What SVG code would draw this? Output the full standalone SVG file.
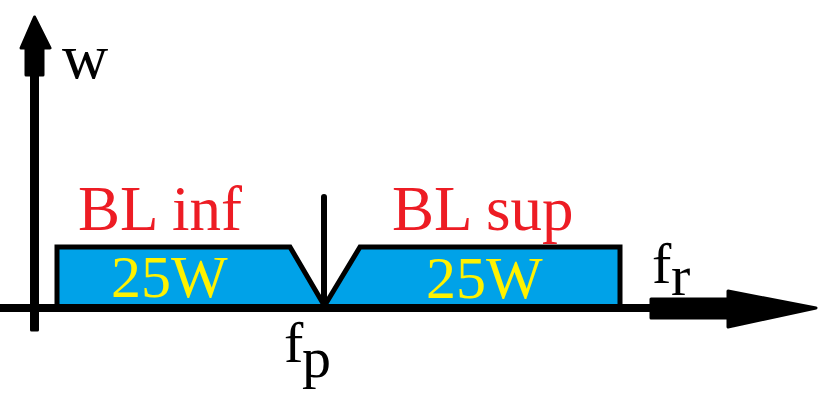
<svg xmlns="http://www.w3.org/2000/svg" width="824" height="400" viewBox="0 0 824 400">
<style>
.t{font-family:"Liberation Serif","Times New Roman",serif}
.red{fill:#ed1c24;font-size:63px}
.yel{fill:#fff200;font-size:60px}
.blk{fill:#000;font-size:58px}
.band{fill:#00a2e8;stroke:#000;stroke-width:5;stroke-linejoin:miter}
.ax{fill:#000;stroke:#000;stroke-width:3;stroke-linejoin:round}
</style>
<rect width="824" height="400" fill="#fff"/>
<g id="band-inf">
<path class="band" d="M57,308 L57,247 L290,247 L324,305"/>
<text class="t red" x="78" y="230">BL inf</text>
<text class="t yel" x="111" y="297">25W</text>
</g>
<g id="band-sup">
<path class="band" d="M325,305 L360,247 L620,247 L620,308"/>
<text class="t red" x="392" y="230">BL sup</text>
<text class="t yel" x="426" y="298">25W</text>
</g>
<g id="connectors">
<rect x="0" y="304" width="652" height="8" fill="#000"/>
<path class="ax" d="M651,299 L728,299 L728,291 L816,308 L728,327 L728,318 L651,318 Z"/>
<path class="ax" d="M31.5,330 L31.5,75 L26,75 L26,48 L21,48 L34.5,17 L50,48 L43,48 L43,75 L37.5,75 L37.5,330 Z"/>
<line x1="324" y1="197" x2="324" y2="305" stroke="#000" stroke-width="6" stroke-linecap="round"/>
</g>
<g id="labels">
<text class="t blk" x="62" y="78" style="font-size:64px">w</text>
<text class="t blk" x="652" y="283">f<tspan x="671" y="295">r</tspan></text>
<text class="t blk" x="284" y="362">f<tspan x="302" y="377">p</tspan></text>
</g>
</svg>
